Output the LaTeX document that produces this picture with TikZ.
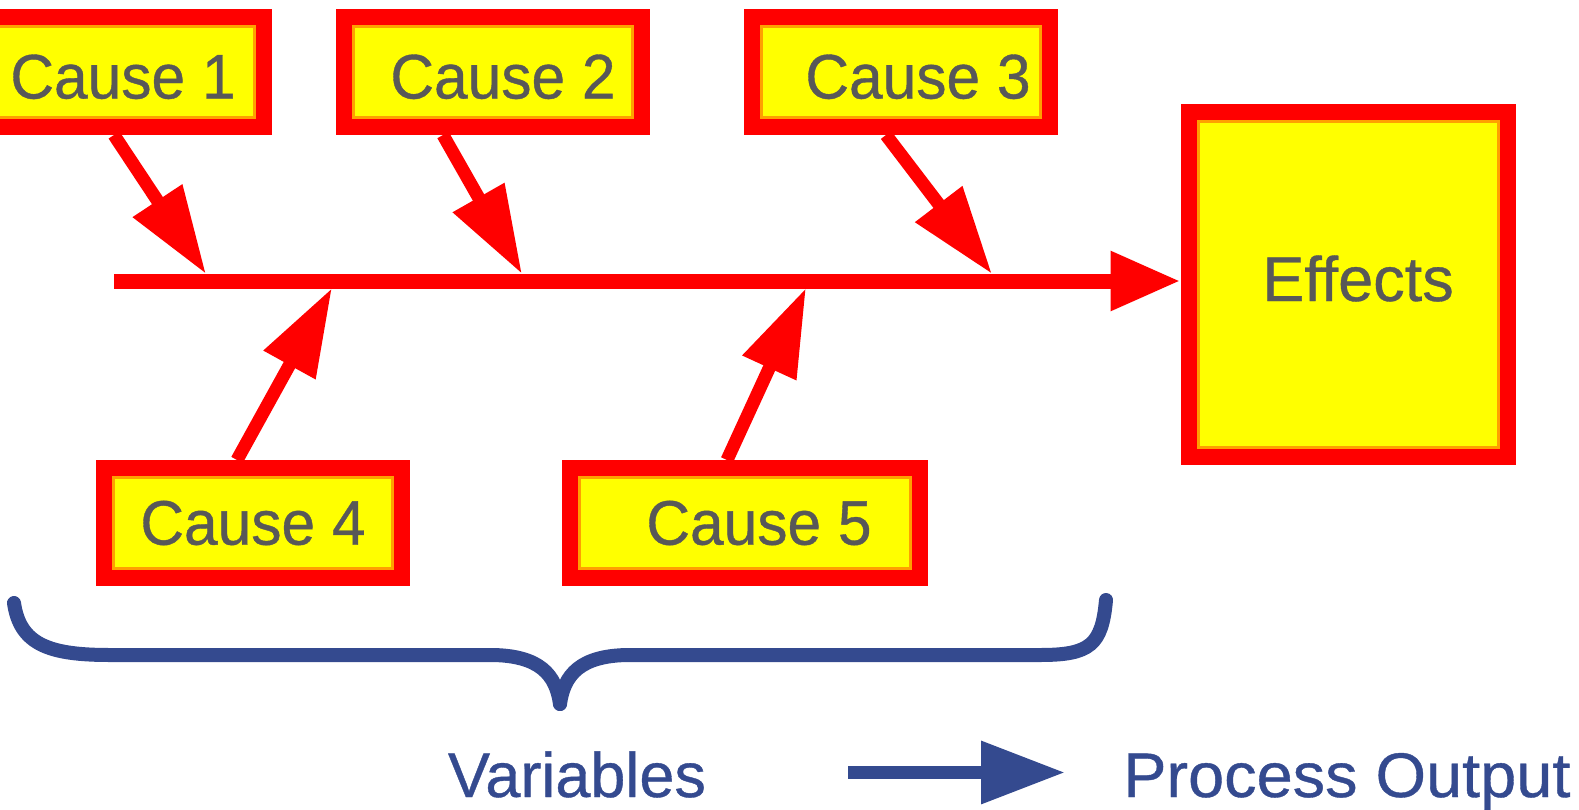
\documentclass[tikz,border=0pt]{standalone}
\usepackage{fontspec}
\setmainfont{Liberation Sans}[FakeBold=0.6]
\newfontfamily\causefont[FakeStretch=0.96,FakeBold=0.6]{Liberation Sans}
\newfontfamily\outfont[FakeStretch=1.03,FakeBold=0.6]{Liberation Sans}
\usetikzlibrary{arrows.meta}
\definecolor{boxred}{RGB}{255,0,0}
\definecolor{boxyellow}{RGB}{255,255,0}
\definecolor{rimorange}{RGB}{255,160,0}
\definecolor{textgrey}{RGB}{88,88,88}
\definecolor{varblue}{RGB}{52,74,143}

\begin{document}
\begin{tikzpicture}[x=1pt,y=-1pt,
	causebox/.style={draw=boxred,line width=16pt,fill=boxyellow,inner sep=0pt,text=textgrey,
		font=\causefont\fontsize{63}{70}\selectfont,minimum height=110pt,
		path picture={\draw[rimorange,line width=22pt] (path picture bounding box.south west) rectangle (path picture bounding box.north east);}},
	causearrow/.style={boxred,line width=13pt,-{Triangle[length=88pt,width=56pt]}},
	spine/.style={boxred,line width=15pt,-{Triangle[length=70pt,width=56pt]}},
	bluetext/.style={inner sep=0pt,text=varblue,font=\fontsize{63}{70}\selectfont},
	bluearrow/.style={varblue,line width=13pt,-{Triangle[length=84pt,width=60pt]}}]
	\useasboundingbox (0,0) rectangle (1579,809);
	\node[causebox,minimum width=282pt,text height=53pt,text depth=0pt] (c1) at (123,72) {Cause 1};
	\node[causebox,minimum width=298pt,text height=53pt,text depth=0pt] (c2) at (493,72) {\hspace*{20pt}Cause 2};
	\node[causebox,minimum width=298pt,text height=53pt,text depth=0pt] (c3) at (901,72) {\hspace*{34pt}Cause 3};
	\node[causebox,minimum width=298pt] (c4) at (253,523) {Cause 4};
	\node[causebox,minimum width=350pt] (c5) at (745,523) {\hspace*{28pt}Cause 5};
	\node[causebox,minimum width=319pt,minimum height=345pt,font=\fontsize{63}{70}\selectfont,text height=46pt,text depth=12pt] (eff) at (1348,284) {\hspace*{20pt}Effects};
	\coordinate (tail) at (114,281);
	\draw[spine] (tail) -- (tail -| eff.west);
	\coordinate (j1) at (206,274);
	\coordinate (j2) at (522,274);
	\coordinate (j3) at (992,274);
	\coordinate (j4) at (332,288);
	\coordinate (j5) at (806,288);
	\draw[causearrow] ([xshift=-9pt]c1.south) -- (j1);
	\draw[causearrow] ([xshift=-50pt]c2.south) -- (j2);
	\draw[causearrow] ([xshift=-15pt]c3.south) -- (j3);
	\draw[causearrow] ([xshift=-16pt]c4.north) -- (j4);
	\draw[causearrow] ([xshift=-18pt]c5.north) -- (j5);
	\draw[varblue,line width=14pt,line cap=round] (14,603) .. controls (20,645) and (50,655) .. (110,655) -- (490,655) .. controls (540,655) and (556,675) .. (560,704);
	\draw[varblue,line width=14pt,line cap=round] (1106,600) .. controls (1102,645) and (1090,655) .. (1040,655) -- (630,655) .. controls (580,655) and (564,675) .. (560,704);
	\node[bluetext,anchor=base] (vars) at (577,797) {Variables};
	\node[bluetext,anchor=base west,font=\outfont\fontsize{63}{70}\selectfont] (out) at (1123,797) {Process Output};
	\draw[bluearrow,shorten <=142pt,shorten >=58pt] ([yshift=2pt]vars.east) -- ([yshift=2pt]vars.east -| out.west);
\end{tikzpicture}
\end{document}
